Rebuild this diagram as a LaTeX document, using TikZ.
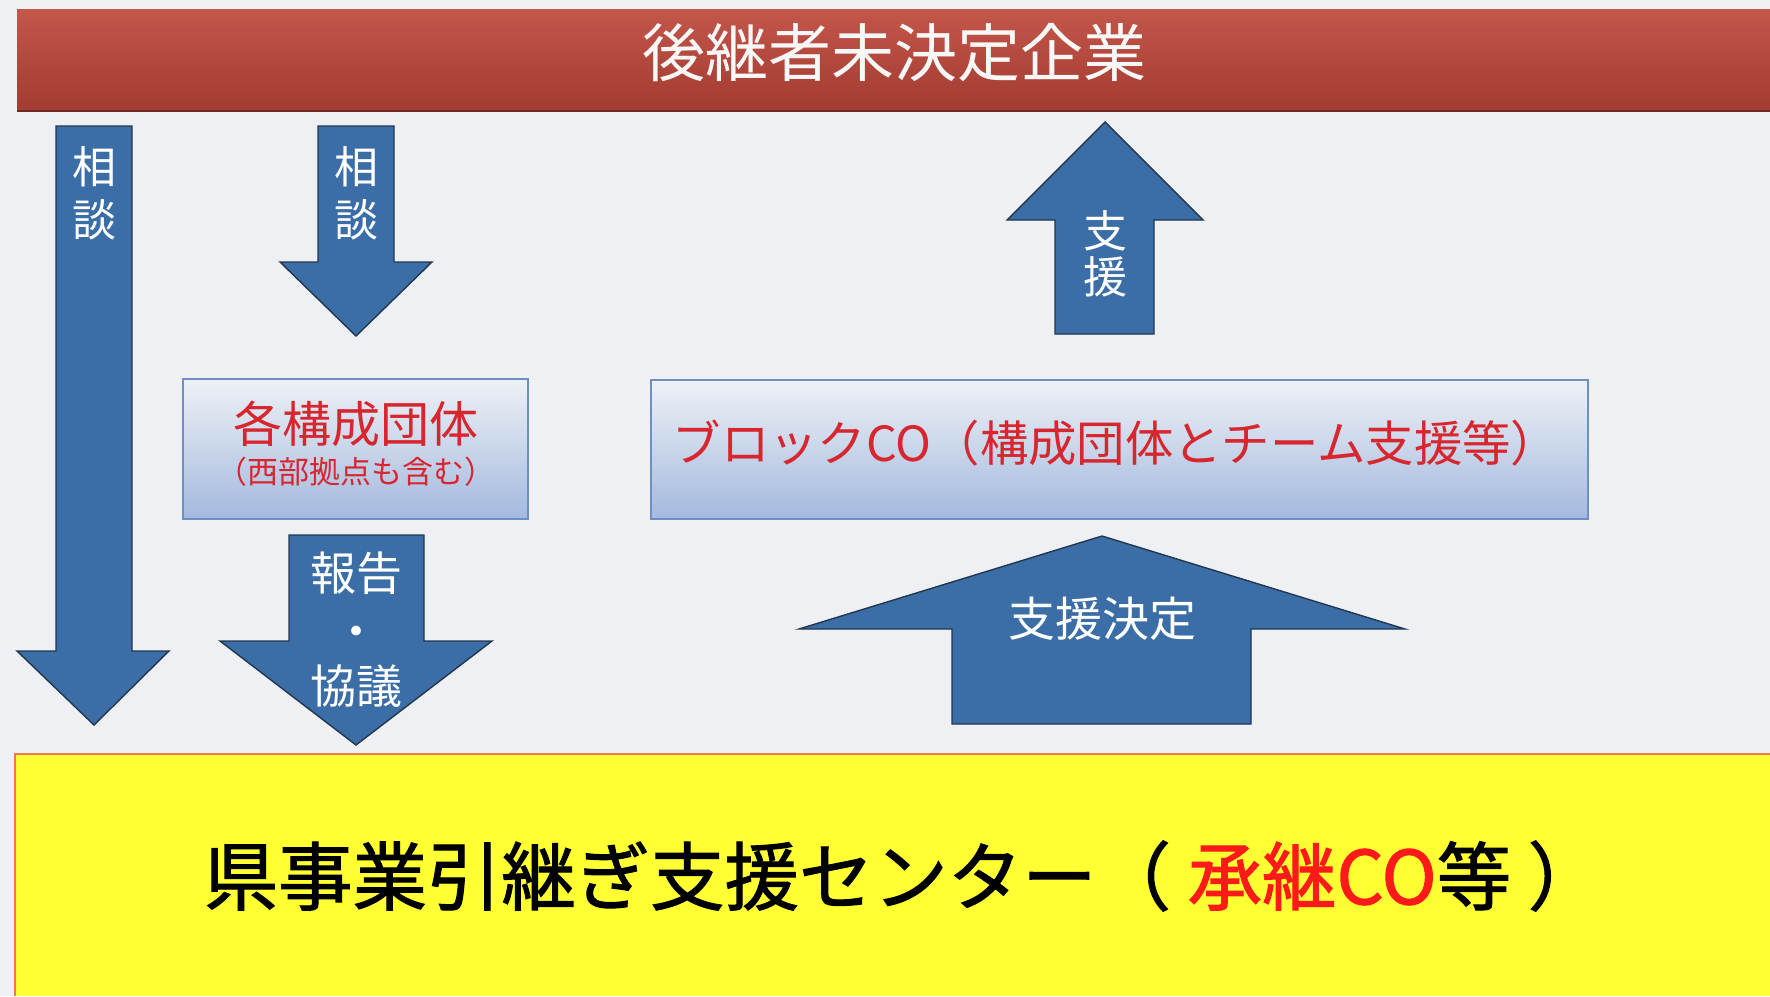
\documentclass[tikz,border=0pt]{standalone}
\usepackage{fontspec}
\newfontfamily\jp{Noto Sans CJK JP}
\newfontfamily\jpb[FakeBold=1.4]{Noto Sans CJK JP}
\definecolor{bgc}{HTML}{EEF0F3}
\definecolor{barTop}{HTML}{C4564A}
\definecolor{barBot}{HTML}{A23B30}
\definecolor{arrowblue}{HTML}{3B6EA7}
\definecolor{arrowline}{HTML}{22374F}
\definecolor{boxTop}{HTML}{EEF1F6}
\definecolor{boxBot}{HTML}{A3B9DE}
\definecolor{boxLine}{HTML}{6E8FC2}
\definecolor{redtxt}{HTML}{D8262E}
\definecolor{redb}{HTML}{FF1A1A}
\definecolor{yel}{HTML}{FFFF33}
\definecolor{yelLine}{HTML}{F07850}
\newcommand{\fs}[1]{\fontsize{#1pt}{#1pt}\selectfont}
\begin{document}
\begin{tikzpicture}[x=0.5pt,y=-0.5pt,
  blk/.style={fill=arrowblue, draw=arrowline, line width=0.7pt, line join=miter},
  wtxt/.style={text=white, font=\jp\fs{22}, inner sep=0pt, anchor=center},
  gbox/.style={draw=boxLine, line width=0.8pt, top color=boxTop, bottom color=boxBot},
]
\useasboundingbox (0,0) rectangle (1770,996);
\fill[bgc] (0,0) rectangle (1770,996);

% title bar
\fill[top color=barTop, bottom color=barBot] (17,9) rectangle (1770,111);
\draw[barBot!70!black, line width=0.8pt] (17,111) -- (1770,111);
\node[inner sep=0pt, text=white!94!gray, font=\jp\fs{31.5}] (title) at (894,53) {後継者未決定企業};

% arrow 1 (long, left)
\draw[blk] (56,126) -- (132,126) -- (132,651) -- (169,651) -- (94,725) -- (17,651) -- (56,651) -- cycle;
\node[wtxt] (a1t1) at (94,167) {相};
\node[wtxt] (a1t2) at (94,220) {談};

% arrow 2 (short)
\draw[blk] (318,126) -- (394,126) -- (394,262) -- (432,262) -- (356,336) -- (280,262) -- (318,262) -- cycle;
\node[wtxt] (a2t1) at (356,167) {相};
\node[wtxt] (a2t2) at (356,220) {談};

% box 1
\draw[gbox] (183,379) rectangle (528,519);
\node[inner sep=0pt, text=redtxt, font=\jp\fs{24.5}] (b1a) at (356,424) {各構成団体};
\node[inner sep=0pt, text=redtxt, font=\jp\fs{15.5}] (b1b) at (356,472) {（西部拠点も含む）};

% arrow 3
\draw[blk] (289,535) -- (424,535) -- (424,641) -- (492,641) -- (356,745) -- (220,641) -- (289,641) -- cycle;
\node[wtxt, font=\jp\fs{23}] (a3t1) at (356,573) {報告};
\node[wtxt, font=\jp\fs{23}] (a3t2) at (356,637) {・};
\node[wtxt, font=\jp\fs{23}] (a3t3) at (356,686) {協議};

% arrow 4 (up)
\draw[blk] (1105,122) -- (1203,220) -- (1154,220) -- (1154,334) -- (1055,334) -- (1055,220) -- (1007,220) -- cycle;
\node[wtxt] (a4t1) at (1105,231) {支};
\node[wtxt] (a4t2) at (1105,277) {援};

% box 2
\draw[gbox] (651,380) rectangle (1588,519);
\node[inner sep=0pt, text=redtxt, font=\jp\fs{24.2}] (b2) at (1116,443) {ブロックCO（構成団体とチーム支援等）};

% arrow 5 (wide up)
\draw[blk] (1102,536) -- (1405,629) -- (1251,629) -- (1251,724) -- (952,724) -- (952,629) -- (799,629) -- cycle;
\node[wtxt, font=\jp\fs{23.5}] (a5t) at (1102,619) {支援決定};

% yellow box
\fill[yel] (15,754) rectangle (1770,996);
\draw[yelLine, line width=1pt] (15,996) -- (15,754) -- (1770,754);
\node[inner sep=0pt, text=black, font=\jpb\fs{37.2}] (center) at (903,876) {県事業引継ぎ支援センター（ \textcolor{redb}{承継CO}等 ）};
\end{tikzpicture}
\end{document}
